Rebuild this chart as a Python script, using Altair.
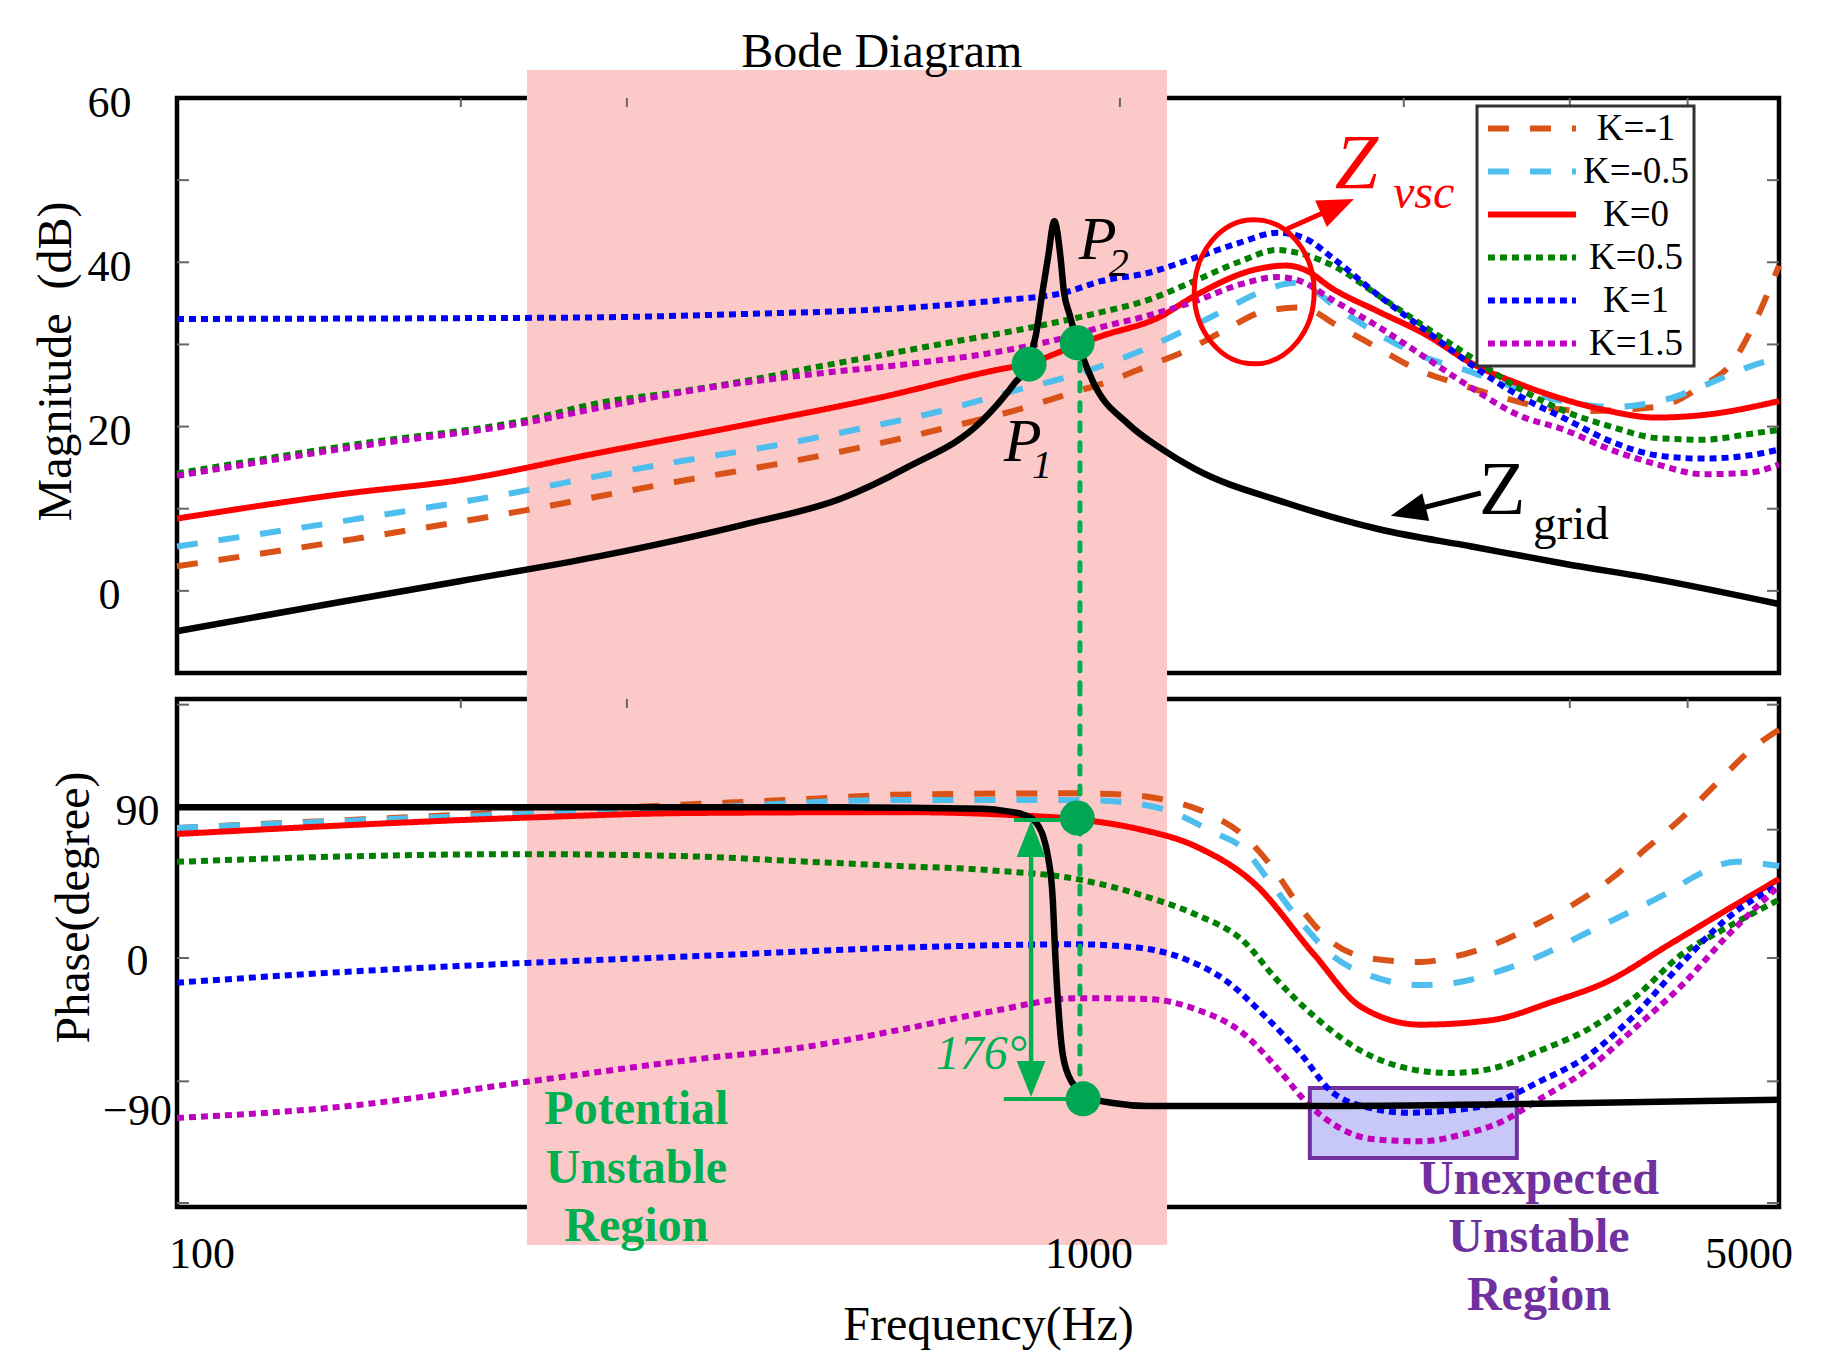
import altair as alt
import pandas as pd

# ---------------- categories & styles ----------------
k_labels = ["K=-1", "K=-0.5", "K=0", "K=0.5", "K=1", "K=1.5"]
k_colors = ["#D95319", "#4DBEEE", "#FF0000", "#008000", "#0000FF", "#BF00BF"]
k_dashes = [[21, 21], [21, 21], [1, 0], [7, 5], [7, 5], [7, 5]]

# ---------------- magnitude (dB) ----------------
mag_f_km1 = [100, 154, 234, 286, 351, 431, 528, 646, 792, 877, 973, 1066, 1178, 1290, 1420, 1554, 1711, 1862, 2062, 2283, 2498, 2798, 3130, 3712, 4110, 4500, 4710, 5000]
mag_km1 = [3.0, 6.3, 9.8, 11.7, 13.6, 15.4, 17.4, 19.7, 22.3, 23.9, 25.5, 27.3, 29.3, 31.7, 34.0, 34.5, 32.1, 29.8, 27.0, 25.2, 23.8, 22.4, 21.9, 22.4, 24.7, 28.4, 32.6, 39.6]

mag_f_km05 = [100, 154, 234, 286, 351, 431, 528, 646, 792, 877, 973, 1070, 1171, 1282, 1404, 1536, 1721, 1883, 2109, 2309, 2557, 2895, 3315, 3799, 4205, 4654, 5000]
mag_km05 = [5.4, 8.7, 12.2, 14.2, 16.0, 17.7, 19.7, 21.9, 24.7, 26.0, 27.7, 29.6, 31.7, 34.0, 36.3, 37.5, 34.0, 31.2, 28.4, 27.0, 25.2, 23.3, 22.4, 23.3, 25.2, 27.3, 28.4]

mag_f_k0 = [100, 150, 200, 280, 400, 555, 733, 800, 904, 955, 1100, 1200, 1390, 1500, 1570, 1680, 1880, 2110, 2360, 2650, 2960, 3300, 3700, 4150, 5000]
mag_k0 = [8.8, 11.8, 13.5, 16.8, 20.2, 23.5, 26.8, 27.7, 30.0, 31.0, 33.3, 35.9, 39.1, 39.6, 39.1, 36.8, 34.0, 31.2, 27.7, 25.2, 23.3, 21.9, 21.1, 21.4, 23.1]

mag_f_k05 = [100, 154, 235, 281, 334, 398, 474, 564, 672, 800, 953, 1070, 1198, 1341, 1469, 1536, 1682, 1883, 2109, 2361, 2645, 2960, 3315, 3712, 4156, 4654, 5000]
mag_k05 = [14.3, 17.8, 20.8, 22.9, 24.1, 25.5, 27.2, 28.8, 30.4, 32.0, 33.9, 35.4, 37.7, 40.1, 41.5, 41.2, 39.6, 35.9, 32.1, 28.4, 24.7, 21.9, 20.0, 18.6, 18.4, 19.1, 19.6]

mag_f_k1 = [100, 200, 281, 398, 564, 733, 872, 955, 1070, 1198, 1341, 1469, 1572, 1682, 1883, 2109, 2361, 2645, 2960, 3315, 3712, 4156, 4654, 5000]
mag_k1 = [33.1, 33.2, 33.3, 33.7, 34.3, 35.3, 36.3, 37.7, 38.7, 40.5, 42.4, 43.6, 42.9, 40.5, 35.9, 31.7, 27.5, 23.8, 21.0, 18.2, 16.5, 16.1, 16.5, 17.2]

mag_f_k15 = [100, 154, 235, 281, 365, 474, 615, 733, 872, 955, 1070, 1198, 1341, 1469, 1554, 1682, 1883, 2109, 2361, 2645, 2960, 3315, 3712, 4156, 4654, 5000]
mag_k15 = [14.0, 17.5, 20.5, 22.3, 24.7, 26.4, 27.8, 29.0, 30.8, 32.1, 33.5, 35.2, 37.3, 38.2, 37.7, 35.4, 32.1, 28.4, 24.7, 21.4, 19.6, 17.2, 15.4, 14.2, 14.4, 15.4]

mag_f_grid = [100, 150, 200, 280, 400, 508, 594, 714, 772, 800, 814, 828, 839, 852, 865, 872, 884, 896, 936, 1021, 1103, 1198, 1502, 1883, 2361, 2960, 3712, 5000]
mag_grid = [-4.9, -1.3, 1.2, 4.2, 8.1, 11.3, 15.0, 20.7, 25.2, 27.8, 31.0, 36.5, 40.6, 45.0, 40.6, 36.5, 33.7, 31.3, 25.5, 20.3, 17.4, 14.9, 10.7, 7.5, 5.4, 3.3, 1.4, -1.6]

# ---------------- phase (degree) ----------------
ph_f_km1 = [100, 234, 351, 466, 584, 901, 1013, 1118, 1236, 1351, 1447, 1560, 1672, 1850, 2083, 2270, 2514, 2782, 3037, 3316, 3617, 3947, 4281, 4669, 5000]
ph_km1 = [78, 87.7, 92.2, 95.4, 98, 98.8, 98, 94.8, 87, 73.7, 55.2, 28.8, 10.2, -0.3, -2.4, 1, 9, 21, 32.7, 47.4, 65.8, 84.2, 104, 125, 137]

ph_f_km05 = [100, 234, 351, 584, 901, 1013, 1118, 1258, 1351, 1447, 1560, 1672, 1850, 2083, 2270, 2514, 2782, 3140, 3428, 3812, 4100, 4500, 5000]
ph_km05 = [78, 86.5, 90, 94.8, 94.8, 93.4, 88.8, 75.3, 65.8, 44.6, 20.8, 2.4, -10.9, -16.2, -14.9, -8.2, 1, 15.6, 26.1, 39.3, 49.9, 57.8, 55.2]

ph_f_k0 = [100, 234, 351, 584, 780, 913, 1042, 1203, 1389, 1605, 1803, 2083, 2477, 2858, 3302, 3812, 4400, 5000]
ph_k0 = [74.4, 84.2, 87, 87.5, 85.6, 82.9, 77.6, 67, 44.6, 2.4, -29.4, -40, -37.3, -26.8, -13.6, 7.6, 28.8, 47.4]

ph_f_k05 = [100, 152, 234, 351, 466, 584, 731, 901, 1068, 1203, 1351, 1470, 1605, 1803, 2024, 2240, 2477, 2782, 3140, 3508, 3947, 4400, 5000]
ph_k05 = [57.7, 61, 62.3, 61, 57.8, 55.2, 52.6, 47.3, 36.7, 26.1, 10.3, -13.6, -34.7, -55.8, -66.4, -69, -66.4, -55.8, -42.6, -24.1, 2.4, 18.2, 35]

ph_f_k1 = [100, 152, 234, 351, 590, 901, 1042, 1168, 1295, 1424, 1560, 1672, 1850, 2024, 2240, 2477, 2782, 3140, 3508, 3947, 4400, 5000]
ph_k1 = [-14.8, -8.2, -3, 1, 6.3, 8.2, 6.3, -0.3, -13.6, -34.7, -58.4, -79.6, -90.2, -92.8, -91.5, -87.5, -74.3, -58.4, -34.7, -3, 23.5, 44]

ph_f_k15 = [100, 152, 234, 351, 466, 590, 731, 901, 1068, 1203, 1351, 1470, 1583, 1695, 1850, 2083, 2302, 2543, 2782, 3140, 3508, 3947, 4400, 5000]
ph_k15 = [-96, -88.8, -74.4, -61.1, -53.2, -42.6, -32, -24.1, -24.6, -30.7, -45.2, -66.4, -87.5, -100.7, -108.6, -110, -106, -98.1, -84.9, -66.4, -42.6, -16.2, 12.9, 43.3]

ph_f_grid = [100, 500, 715, 760, 790, 814, 839, 849, 853, 861, 870, 889, 928, 983, 1072, 1600, 2670, 5000]
ph_grid = [90.5, 90.5, 89.5, 88, 86, 81.6, 60.6, 34, 7.6, -32, -58.4, -74.3, -83.6, -87, -88.8, -88.8, -87.6, -85]

# ---------------- tick labels ----------------
mag_tick_labels = [0, 20, 40, 60]
ph_tick_labels = [-90, 0, 90]
freq_tick_labels = [100, 1000, 5000]
mag_minor = [0, 10, 20, 30, 40, 50]
ph_minor = [152, 77, 0, -74, -147]
freq_minor_top = [200, 300, 1000, 2000, 3000, 4000]
freq_minor_bottom = [200, 300, 3000, 4000]

# ---------------- layout constants ----------------
W, HT, HB, GAP = 1602, 575, 508, 26
MAG_DOM = [-10, 60]
PH_DOM = [-149.4, 155.4]
FONT = "Liberation Serif"
PINK = "#FCC9C9"
GREEN = "#00B050"
DOTG = "#00A651"
PURPLE = "#7030A0"
TICKC = "#666666"
TK = 1.0297  # 12 px in the log x scale

XS = alt.Scale(type="log", domain=[100, 5000], nice=False)
YST = alt.Scale(domain=MAG_DOM, nice=False, zero=False)
YSB = alt.Scale(domain=PH_DOM, nice=False, zero=False)

AX_T = alt.Axis(values=mag_tick_labels, title="Magnitude\u00a0\u00a0(dB)", grid=False, ticks=False, tickSize=0,
                domain=False, labelFont=FONT, labelFontSize=44, labelColor="black", labelAlign="center",
                labelBaseline="middle", labelPadding=68, labelOffset=5, labelFlush=False, labelOverlap=False,
                titleFont=FONT, titleFontSize=48, titleFontWeight="normal", titleColor="black",
                titleX=-107, titleY=263, titleAngle=270, titleAlign="center", titleBaseline="alphabetic")
AX_B = alt.Axis(values=ph_tick_labels, title="Phase(degree)", grid=False, ticks=False, tickSize=0,
                domain=False, labelFont=FONT, labelFontSize=44, labelColor="black", labelAlign="center",
                labelBaseline="middle", labelPadding=40, labelOffset=3, labelFlush=False, labelOverlap=False,
                titleFont=FONT, titleFontSize=48, titleFontWeight="normal", titleColor="black",
                titleX=-89, titleY=208, titleAngle=270, titleAlign="center", titleBaseline="alphabetic")
AX_XB = alt.Axis(labels=False, ticks=False, tickSize=0, domain=False, grid=False, title="Frequency(Hz)",
                 titleFont=FONT, titleFontSize=48, titleFontWeight="normal", titleColor="black",
                 titleX=811, titleY=132, titleAlign="center", titleBaseline="alphabetic", titleAngle=0)

# legend: a short custom stroke symbol (scaled by sqrt(size)/2 = 11) keeps rows compact
LEG = alt.Legend(title=None, orient="none", legendX=1300, legendY=8,
                 symbolType="M-1.05,0H6.95", symbolSize=484, symbolStrokeWidth=6,
                 labelFont=FONT, labelFontSize=37, labelColor="black", labelAlign="center",
                 labelOffset=118, labelLimit=0, padding=4, rowPadding=5,
                 strokeColor="#333333", fillColor="white", symbolOpacity=1)


def XT(field):
    return alt.X(field, type="quantitative", scale=XS, axis=None)


def XB(field):
    return alt.X(field, type="quantitative", scale=XS, axis=AX_XB)


def YT(field):
    return alt.Y(field, type="quantitative", scale=YST, axis=AX_T)


def YB(field):
    return alt.Y(field, type="quantitative", scale=YSB, axis=AX_B)


def series_df(pairs):
    rows = []
    for lab, fs, vs in pairs:
        for f, v in zip(fs, vs):
            rows.append({"K": lab, "f": f, "v": v})
    return pd.DataFrame(rows)


mag_df = series_df([
    (k_labels[0], mag_f_km1, mag_km1), (k_labels[1], mag_f_km05, mag_km05),
    (k_labels[2], mag_f_k0, mag_k0), (k_labels[3], mag_f_k05, mag_k05),
    (k_labels[4], mag_f_k1, mag_k1), (k_labels[5], mag_f_k15, mag_k15)])
ph_df = series_df([
    (k_labels[0], ph_f_km1, ph_km1), (k_labels[1], ph_f_km05, ph_km05),
    (k_labels[2], ph_f_k0, ph_k0), (k_labels[3], ph_f_k05, ph_k05),
    (k_labels[4], ph_f_k1, ph_k1), (k_labels[5], ph_f_k15, ph_k15)])
grid_mag_df = pd.DataFrame({"f": mag_f_grid, "v": mag_grid})
grid_ph_df = pd.DataFrame({"f": ph_f_grid, "v": ph_grid})

COLOR = alt.Color("K:N", scale=alt.Scale(domain=k_labels, range=k_colors), legend=LEG)
DASH = alt.StrokeDash("K:N", scale=alt.Scale(domain=k_labels, range=k_dashes), legend=LEG)

ARROW = "M0,-1L-0.8,1L0.8,1Z"
ELLIPSE = "M-0.833,0A0.833,1 0 1,0 0.833,0A0.833,1 0 1,0 -0.833,0Z"


def text_layer(X, Y, rows, **kw):
    base = dict(font=FONT, color="black")
    base.update(kw)
    return alt.Chart(pd.DataFrame(rows)).mark_text(**base).encode(x=X("f"), y=Y("v"), text="t:N")


def rule_layer(X, Y, rows, **kw):
    df = pd.DataFrame(rows)
    enc = {"x": X("f"), "y": Y("v")}
    if "f2" in df.columns:
        enc["x2"] = alt.X2("f2")
    if "v2" in df.columns:
        enc["y2"] = alt.Y2("v2")
    return alt.Chart(df).mark_rule(**kw).encode(**enc)


def point_layer(X, Y, rows, **kw):
    return alt.Chart(pd.DataFrame(rows)).mark_point(**kw).encode(x=X("f"), y=Y("v"))


# ================= TOP PANEL =================
top_layers = [
    alt.Chart(pd.DataFrame([{"f": 235, "f2": 1122, "v": 63.41, "v2": -13.0}])).mark_rect(color=PINK)
       .encode(x=XT("f"), x2=alt.X2("f2"), y=YT("v"), y2=alt.Y2("v2")),
    rule_layer(XT, YT, [{"f": 100, "f2": 100 * TK, "v": m} for m in mag_minor]
               + [{"f": 5000 / TK, "f2": 5000, "v": m} for m in mag_minor], color=TICKC, strokeWidth=2),
    rule_layer(XT, YT, [{"f": f, "v": 60, "v2": 58.9} for f in freq_minor_top], color=TICKC, strokeWidth=2),
    alt.Chart(mag_df).mark_line(interpolate="monotone", strokeWidth=6)
       .encode(x=XT("f"), y=YT("v"), color=COLOR, strokeDash=DASH),
    alt.Chart(grid_mag_df).mark_line(interpolate="monotone", strokeWidth=6.5, color="black")
       .encode(x=XT("f"), y=YT("v")),
    # vertical green dotted link
    rule_layer(XT, YT, [{"f": 907, "v": 30.2, "v2": -13.0}], color=GREEN, strokeWidth=5,
               strokeDash=[8, 12], strokeCap="round"),
    # ellipse around Zvsc peaks
    point_layer(XT, YT, [{"f": 1388, "v": 36.4}], shape=ELLIPSE, size=20736, filled=False,
                color="#FF0000", strokeWidth=5, opacity=1),
    # red arrow to Zvsc
    rule_layer(XT, YT, [{"f": 1503, "v": 44.05, "f2": 1701, "v2": 46.8}], color="#FF0000", strokeWidth=5),
    point_layer(XT, YT, [{"f": 1701, "v": 46.8}], shape=ARROW, size=1296, filled=True,
                color="#FF0000", angle=66, opacity=1),
    # black arrow to Zgrid
    rule_layer(XT, YT, [{"f": 2414, "v": 11.91, "f2": 2022, "v2": 9.66}], color="black", strokeWidth=5),
    point_layer(XT, YT, [{"f": 2022, "v": 9.66}], shape=ARROW, size=1296, filled=True,
                color="black", angle=256, opacity=1),
    # green points P1, P2
    alt.Chart(pd.DataFrame([{"f": 801, "v": 27.6}, {"f": 901, "v": 30.2}]))
       .mark_circle(size=1225, color=DOTG, opacity=1).encode(x=XT("f"), y=YT("v")),
    # texts
    text_layer(XT, YT, [{"f": 559, "v": 63.77, "t": "Bode Diagram"}], fontSize=48, align="center",
               baseline="alphabetic"),
    text_layer(XT, YT, [{"f": 904.5, "v": 40.4, "t": "P"}, {"f": 753, "v": 15.8, "t": "P"}],
               fontSize=62, fontStyle="italic", align="left", baseline="alphabetic"),
    text_layer(XT, YT, [{"f": 973, "v": 38.3, "t": "2"}, {"f": 806.6, "v": 13.74, "t": "1"}],
               fontSize=40, fontStyle="italic", align="left", baseline="alphabetic"),
    text_layer(XT, YT, [{"f": 1690, "v": 49.0, "t": "Z"}], fontSize=78, fontStyle="italic",
               color="#FF0000", align="left", baseline="alphabetic"),
    text_layer(XT, YT, [{"f": 1948, "v": 46.6, "t": "vsc"}], fontSize=48, fontStyle="italic",
               color="#FF0000", align="left", baseline="alphabetic"),
    text_layer(XT, YT, [{"f": 2403, "v": 9.4, "t": "Z"}], fontSize=76, align="left", baseline="alphabetic"),
    text_layer(XT, YT, [{"f": 2742, "v": 6.31, "t": "grid"}], fontSize=47, align="left", baseline="alphabetic"),
]
top = alt.layer(*top_layers).properties(width=W, height=HT)

# ================= BOTTOM PANEL =================
bottom_layers = [
    alt.Chart(pd.DataFrame([{"f": 235, "f2": 1122, "v": 163.2, "v2": -172.2}])).mark_rect(color=PINK)
       .encode(x=XB("f"), x2=alt.X2("f2"), y=YB("v"), y2=alt.Y2("v2")),
    rule_layer(XB, YB, [{"f": 100, "f2": 100 * TK, "v": m} for m in ph_minor]
               + [{"f": 5000 / TK, "f2": 5000, "v": m} for m in ph_minor], color=TICKC, strokeWidth=2),
    rule_layer(XB, YB, [{"f": f, "v": PH_DOM[1], "v2": PH_DOM[1] - 5.4} for f in freq_minor_bottom],
               color=TICKC, strokeWidth=2),
    # unexpected unstable region box
    alt.Chart(pd.DataFrame([{"f": 1590, "f2": 2636, "v": -78, "v2": -120}]))
       .mark_rect(fill="#C8C8F8", stroke=PURPLE, strokeWidth=4)
       .encode(x=XB("f"), x2=alt.X2("f2"), y=YB("v"), y2=alt.Y2("v2")),
    alt.Chart(ph_df).mark_line(interpolate="monotone", strokeWidth=6)
       .encode(x=XB("f"), y=YB("v"), color=COLOR, strokeDash=DASH),
    alt.Chart(grid_ph_df).mark_line(interpolate="monotone", strokeWidth=6.5, color="black")
       .encode(x=XB("f"), y=YB("v")),
    rule_layer(XB, YB, [{"f": 907, "v": 163.2, "v2": -84.5}], color=GREEN, strokeWidth=5,
               strokeDash=[8, 12], strokeCap="round"),
    # 176 degree bracket
    rule_layer(XB, YB, [{"f": 805, "v": 76.0, "v2": -78.0}], color=GREEN, strokeWidth=4.5),
    rule_layer(XB, YB, [{"f": 772, "f2": 907, "v": 82.8}, {"f": 753, "f2": 914, "v": -84.6}],
               color=GREEN, strokeWidth=4),
    point_layer(XB, YB, [{"f": 805, "v": 71.4}], shape=ARROW, size=1296, filled=True, color=GREEN,
                angle=0, opacity=1),
    point_layer(XB, YB, [{"f": 805, "v": -72.6}], shape=ARROW, size=1296, filled=True, color=GREEN,
                angle=180, opacity=1),
    alt.Chart(pd.DataFrame([{"f": 901, "v": 84}, {"f": 914, "v": -84.5}]))
       .mark_circle(size=1225, color=DOTG, opacity=1).encode(x=XB("f"), y=YB("v")),
    text_layer(XB, YB, [{"f": 797, "v": -66.6, "t": "176°"}], fontSize=48, fontStyle="italic",
               color=GREEN, align="right", baseline="alphabetic"),
    alt.Chart(pd.DataFrame([{"f": 307, "v": -99.6}]))
       .mark_text(text=["Potential", "Unstable", "Region"], font=FONT, fontSize=48, fontWeight="bold",
                  color=GREEN, align="center", baseline="alphabetic", lineHeight=58.5)
       .encode(x=XB("f"), y=YB("v")),
    alt.Chart(pd.DataFrame([{"f": 2782, "v": -141.6}]))
       .mark_text(text=["Unexpected", "Unstable", "Region"], font=FONT, fontSize=48, fontWeight="bold",
                  color=PURPLE, align="center", baseline="alphabetic", lineHeight=58)
       .encode(x=XB("f"), y=YB("v")),
]
for fval, dx in zip(freq_tick_labels, [25, -31, -30]):
    bottom_layers.append(text_layer(XB, YB, [{"f": fval, "v": -186, "t": str(fval)}], fontSize=44,
                                    align="center", baseline="alphabetic", dx=dx))
bottom = alt.layer(*bottom_layers).properties(width=W, height=HB)

chart = (
    alt.vconcat(top, bottom, spacing=GAP, bounds="flush")
    .properties(padding={"left": 21, "top": 18, "right": 10, "bottom": 10})
    .configure_view(stroke="black", strokeWidth=4.5)
    .configure_legend(strokeWidth=3)
)

chart.save("out.html", embed_options={"renderer": "svg", "actions": False})
